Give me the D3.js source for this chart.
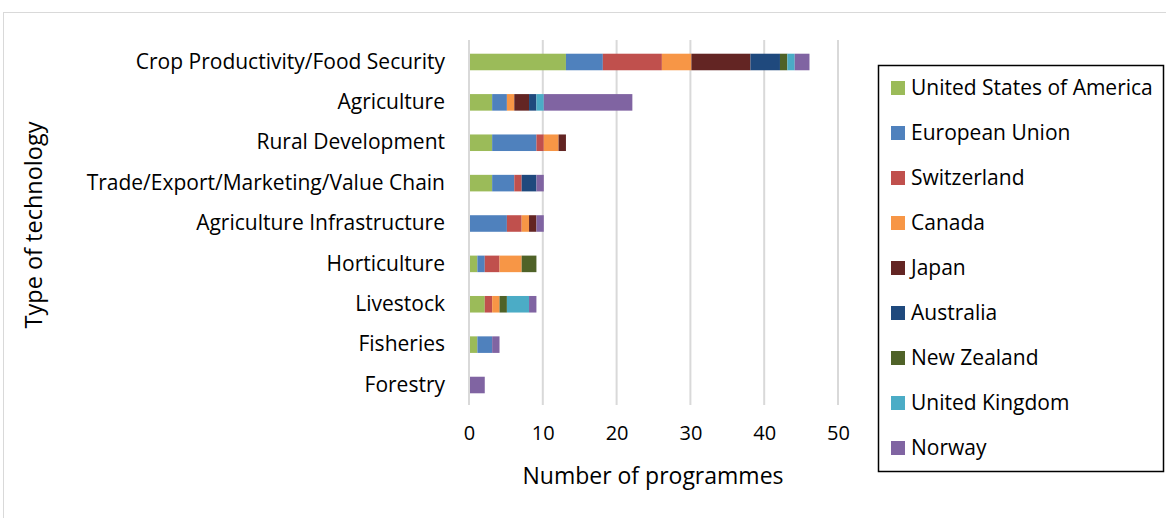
<!DOCTYPE html>
<html><head><meta charset="utf-8">
<script src="https://cdn.jsdelivr.net/npm/d3@7"></script>
<style>body{margin:0;background:#fff}svg{display:block}text{font-family:"Open Sans",sans-serif;fill:#000}</style>
</head><body>
<svg id="c" width="1166" height="518"></svg>
<script>
const categories = ["Crop Productivity/Food Security","Agriculture","Rural Development","Trade/Export/Marketing/Value Chain","Agriculture Infrastructure","Horticulture","Livestock","Fisheries","Forestry"];
const seriesNames = ["United States of America","European Union","Switzerland","Canada","Japan","Australia","New Zealand","United Kingdom","Norway"];
const seriesColors = ["#9BBB59","#4F81BD","#C0504D","#F79646","#632523","#1F497D","#4F6228","#4BACC6","#8064A2"];
// values per series, in category order
const usa         = [13,3,3,3,0,1,2,1,0];
const eu          = [5,2,6,3,5,1,0,2,0];
const switzerland = [8,0,1,1,2,2,1,0,0];
const canada      = [4,1,2,0,1,3,1,0,0];
const japan       = [8,2,1,0,1,0,0,0,0];
const australia   = [4,1,0,2,0,0,0,0,0];
const newZealand  = [1,0,0,0,0,2,1,0,0];
const uk          = [1,1,0,0,0,0,3,0,0];
const norway      = [2,12,0,1,1,0,1,1,2];
const xTicks = [0,10,20,30,40,50];

const seriesValues = [usa,eu,switzerland,canada,japan,australia,newZealand,uk,norway];
const rows = categories.map((c,i)=>{const o={cat:c};seriesNames.forEach((s,j)=>o[s]=seriesValues[j][i]);return o;});
const stacked = d3.stack().keys(seriesNames)(rows);

const FONT = "'Open Sans',sans-serif";
const svg = d3.select("#c");
// outer frame
svg.append("rect").attr("x",3.5).attr("y",12.5).attr("width",1170).attr("height",520).attr("fill","none").attr("stroke","#d9d9d9").attr("stroke-width",1);

const x = d3.scaleLinear().domain([0,50]).range([469,838]);
const y = d3.scaleBand().domain(categories).range([41.8,405.2]).paddingInner(0.59).paddingOuter(0.295);

// gridlines
svg.append("g").selectAll("line").data(xTicks).join("line")
  .attr("x1",d=>x(d)).attr("x2",d=>x(d)).attr("y1",40).attr("y2",405)
  .attr("stroke","#d9d9d9").attr("stroke-width",2);

// bars
svg.append("g").selectAll("g").data(stacked).join("g")
  .attr("fill",(d,i)=>seriesColors[i])
  .selectAll("rect").data(d=>d.filter(p=>p[1]>p[0])).join("rect")
  .attr("x",p=>x(p[0])+1).attr("width",p=>x(p[1])-x(p[0]))
  .attr("y",p=>y(p.data.cat)).attr("height",y.bandwidth());

// x axis
const xAxis = svg.append("g").attr("transform","translate(0,405)")
  .call(d3.axisBottom(x).tickValues(xTicks).tickSize(0).tickPadding(21));
xAxis.select(".domain").remove();
xAxis.selectAll("text").style("font-size","20px").style("font-family",FONT).attr("fill","#000");

// y axis
const yAxis = svg.append("g").attr("transform","translate(469,0)")
  .call(d3.axisLeft(y).tickSize(0).tickPadding(24));
yAxis.select(".domain").remove();
yAxis.selectAll("text").style("font-size","21px").style("font-family",FONT).attr("fill","#000");

// axis titles
svg.append("text").attr("x",653).attr("y",484).attr("text-anchor","middle").style("font-size","23px").text("Number of programmes");
svg.append("text").attr("transform","translate(42,225) rotate(-90)").attr("text-anchor","middle").style("font-size","23.5px").text("Type of technology");

// legend
const lg = svg.append("g");
lg.append("rect").attr("x",878.5).attr("y",65.5).attr("width",285).attr("height",406).attr("fill","#fff").attr("stroke","#000").attr("stroke-width",1.5);
const items = lg.selectAll("g.item").data(seriesNames).join("g").attr("class","item")
  .attr("transform",(d,i)=>`translate(891,${88+i*45})`);
items.append("rect").attr("x",0).attr("y",-7).attr("width",14).attr("height",14).attr("fill",(d,i)=>seriesColors[i]);
items.append("text").attr("x",20).attr("y",0).attr("dy","0.35em").style("font-size","21px").text(d=>d);
</script>
</body></html>
